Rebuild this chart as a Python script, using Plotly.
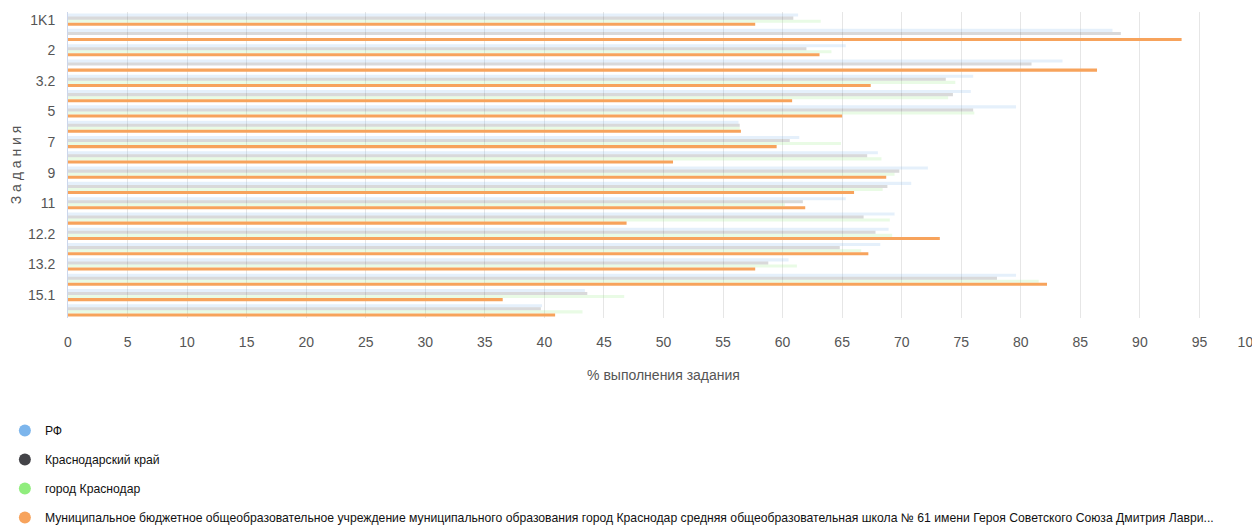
import plotly.graph_objects as go

categories = ["1K1", "1K2", "2", "3.1", "3.2", "4", "5", "6", "7", "8",
              "9", "10", "11", "12.1", "12.2", "13.1", "13.2", "14", "15.1", "15.2"]
shown_labels = ["1K1", "2", "3.2", "5", "7", "9", "11", "12.2", "13.2", "15.1"]
x_tick_values = [0, 5, 10, 15, 20, 25, 30, 35, 40, 45, 50,
                 55, 60, 65, 70, 75, 80, 85, 90, 95, 100]
x_tick_labels = ["0", "5", "10", "15", "20", "25", "30", "35", "40", "45", "50",
                 "55", "60", "65", "70", "75", "80", "85", "90", "95",
                 "100\u00a0\u00a0\u00a0\u00a0\u00a0"]

rf = [61.3, 87.7, 65.3, 83.5, 76.0, 75.8, 79.6, 56.3, 61.4, 68.0,
      72.2, 70.8, 65.3, 69.4, 68.9, 68.2, 60.5, 79.6, 43.4, 39.8]
krai = [60.9, 88.4, 62.0, 80.9, 73.7, 74.3, 76.0, 56.4, 60.6, 67.1,
        69.8, 68.8, 61.7, 66.8, 67.8, 64.8, 58.8, 78.0, 43.6, 39.7]
city = [63.2, None, 64.1, None, 74.5, 73.9, 76.1, 56.4, 64.9, 68.3,
        69.4, 68.4, 60.2, 69.0, 69.2, 66.6, 61.2, 81.5, 46.7, 43.2]
school = [57.7, 93.5, 63.1, 86.4, 67.4, 60.8, 65.0, 56.5, 59.5, 50.8,
          68.7, 66.0, 61.9, 46.9, 73.2, 67.2, 57.7, 82.2, 36.5, 40.9]

series_names = [
    "РФ",
    "Краснодарский край",
    "город Краснодар",
    "Муниципальное бюджетное общеобразовательное учреждение муниципального образования город Краснодар средняя общеобразовательная школа № 61 имени Героя Советского Союза Дмитрия Лаври...",
]
series_values = [rf, krai, city, school]
colors = ["#7cb5ec", "#434348", "#90ed7d", "#f7a35c"]
opacities = [0.2, 0.2, 0.2, 1.0]

FONT = "Liberation Sans, Arial, sans-serif"

fig = go.Figure()
for name, vals, col, op in zip(series_names, series_values, colors, opacities):
    fig.add_trace(go.Bar(
        y=categories, x=vals, orientation="h", name=name,
        marker=dict(color=col, opacity=op, line=dict(width=0)),
        showlegend=False,
    ))

for i, (name, col) in enumerate(zip(series_names, colors)):
    fig.add_trace(go.Scatter(
        x=[None], y=[None], mode="markers", name=name,
        marker=dict(color=col, size=13, symbol="circle"),
        legendgroup=f"g{i}", showlegend=True,
    ))

fig.update_layout(
    width=1252, height=518,
    margin=dict(l=60, r=1, t=4, b=208, autoexpand=False),
    paper_bgcolor="white", plot_bgcolor="white",
    barmode="group", bargap=0.2, bargroupgap=0.0,
    font=dict(family=FONT, size=13, color="#333333"),
    showlegend=True,
    legend=dict(
        orientation="v",
        x=-0.053, xanchor="left", y=-0.32, yanchor="top",
        font=dict(family=FONT, size=12.2, color="#111111"),
        tracegroupgap=10, traceorder="grouped",
        bgcolor="rgba(0,0,0,0)", itemsizing="constant",
    ),
    xaxis=dict(
        range=[0, 100],
        tickmode="array", tickvals=x_tick_values, ticktext=x_tick_labels,
        showgrid=True, gridcolor="#e6e6e6", gridwidth=1,
        zeroline=False, showline=False, automargin=False,
        ticks="outside", ticklen=11, tickcolor="rgba(0,0,0,0)",
        ticklabeloverflow="allow",
        tickfont=dict(family=FONT, size=14, color="#555555"),
        title=dict(text="% выполнения задания", standoff=21,
                   font=dict(family=FONT, size=14, color="#555555")),
        fixedrange=True,
    ),
    yaxis=dict(
        categoryorder="array", categoryarray=categories,
        autorange="reversed", automargin=False,
        tickmode="array", tickvals=shown_labels, ticktext=shown_labels,
        showgrid=False, zeroline=False,
        showline=True, linecolor="#ccd6eb", linewidth=1,
        ticks="outside", ticklen=9, tickcolor="rgba(0,0,0,0)",
        tickfont=dict(family=FONT, size=14, color="#555555"),
        title=dict(text="З а д а н и я", standoff=6,
                   font=dict(family=FONT, size=14, color="#555555")),
    ),
)

fig.write_html("out.html")
